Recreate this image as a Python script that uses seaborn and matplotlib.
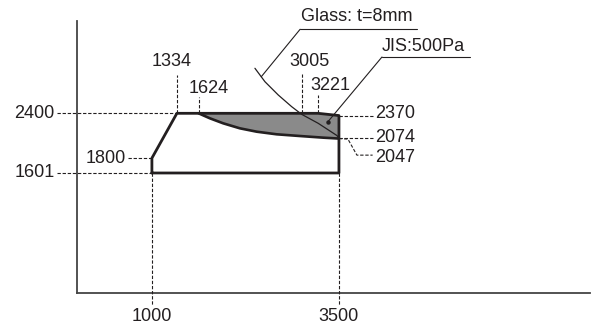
import numpy as np
import pandas as pd
import seaborn as sns
from matplotlib import pyplot as plt

sns.set_style("white")
plt.rcParams['font.family'] = ['Liberation Sans', 'DejaVu Sans']

# outline of the usable size range (width x, height y)
outline_x = [1000, 1000, 1334, 3221, 3500, 3500, 1000]
outline_y = [1601, 1800, 2400, 2400, 2370, 1601, 1601]

# JIS:500Pa limit curve (lower edge of the grey zone)
jis_x = [1624, 1775, 1953, 2176, 2400, 2667, 2979, 3290, 3500]
jis_y = [2400, 2333, 2266, 2199, 2154, 2119, 2096, 2074, 2062]

# Glass t=8mm limit curve
glass_x = [2377, 2511, 2689, 2868, 3001, 3223, 3469, 3500]
glass_y = [3003, 2823, 2645, 2489, 2387, 2266, 2105, 2074]

# dimension labels
x_marks = [1000, 3500]
y_marks = [1601, 2400]
top_marks = [1334, 1624, 3005, 3221]

ink = '#231f20'
dash = (0, (3, 1.6))
fs = 13

fig = plt.figure(figsize=(5.93, 3.28), dpi=100)
ax = fig.add_axes([0.130, 0.108, 0.865, 0.828])
ax.set_xlim(0, 6856)
ax.set_ylim(0, 3636)
ax.set_xticks([])
ax.set_yticks([])
for s in ['top', 'right']:
    ax.spines[s].set_visible(False)
for s in ['left', 'bottom']:
    ax.spines[s].set_color('#444444')
    ax.spines[s].set_linewidth(1.3)

# grey zone between top edge and JIS curve
fill_x = [1624, 3221, 3500] + jis_x[::-1]
fill_y = [2400, 2400, 2370] + jis_y[::-1]
ax.fill(fill_x, fill_y, color='#8a8a8a', lw=0, zorder=2)

df = pd.DataFrame({'x': outline_x, 'y': outline_y})
sns.lineplot(data=df, x='x', y='y', sort=False, estimator=None, color=ink,
             lw=2.0, ax=ax, zorder=4)
ax.plot(jis_x, jis_y, color=ink, lw=1.9, zorder=4, solid_joinstyle='round',
        solid_capstyle='round')
ax.plot(glass_x, glass_y, color=ink, lw=0.9, zorder=5, solid_joinstyle='round')
ax.set_xlabel('')
ax.set_ylabel('')

dl = dict(color=ink, lw=0.8, ls=dash, clip_on=False, zorder=3)

# bottom dimensions
for xv in x_marks:
    ax.plot([xv, xv], [1601, -166], **dl)
    ax.text(xv, -320, str(xv), ha='center', va='center', fontsize=fs, color=ink)

# left dimensions
for yv in y_marks:
    x_end = 1000 if yv == 1601 else 1334
    ax.plot([-270, x_end], [yv, yv], **dl)
    ax.text(-300, yv, str(yv), ha='right', va='center', fontsize=fs, color=ink)
ax.plot([680, 1000], [1800, 1800], **dl)
ax.text(654, 1800, '1800', ha='right', va='center', fontsize=fs, color=ink)

# top dimensions
top_len = {1334: 2913, 1624: 2618, 3005: 2925, 3221: 2645}
top_txt = {1334: (1268, 3100), 1624: (1762, 2738), 3005: (3112, 3100), 3221: (3380, 2766)}
for xv in top_marks:
    ax.plot([xv, xv], [2400, top_len[xv]], **dl)
    tx, ty = top_txt[xv]
    ax.text(tx, ty, str(xv), ha='center', va='center', fontsize=fs, color=ink)

# right dimensions
ax.plot([3500, 3950], [2370, 2370], **dl)
ax.text(3981, 2395, '2370', ha='left', va='center', fontsize=fs, color=ink)
ax.plot([3500, 3950], [2074, 2074], **dl)
ax.text(3981, 2070, '2074', ha='left', va='center', fontsize=fs, color=ink)
ax.plot([3500, 3620, 3740, 3950], [2062, 2055, 1840, 1840], **dl)
ax.text(3981, 1815, '2047', ha='left', va='center', fontsize=fs, color=ink)

# Glass callout
ax.text(2995, 3690, 'Glass: t=8mm', ha='left', va='center', fontsize=fs, color=ink, clip_on=False)
ax.plot([2981, 4543], [3525, 3525], color=ink, lw=0.8, clip_on=False)
ax.plot([2981, 2462], [3525, 2890], color=ink, lw=0.8)

# JIS callout
ax.text(4075, 3300, 'JIS:500Pa', ha='left', va='center', fontsize=fs, color=ink)
ax.plot([4075, 5250], [3154, 3154], color=ink, lw=0.8)
ax.plot([4075, 3353], [3154, 2288], color=ink, lw=0.8, zorder=6)
ax.plot([3353], [2288], 'o', color=ink, ms=2.2, zorder=6)

plt.savefig('out.png', dpi=100)
